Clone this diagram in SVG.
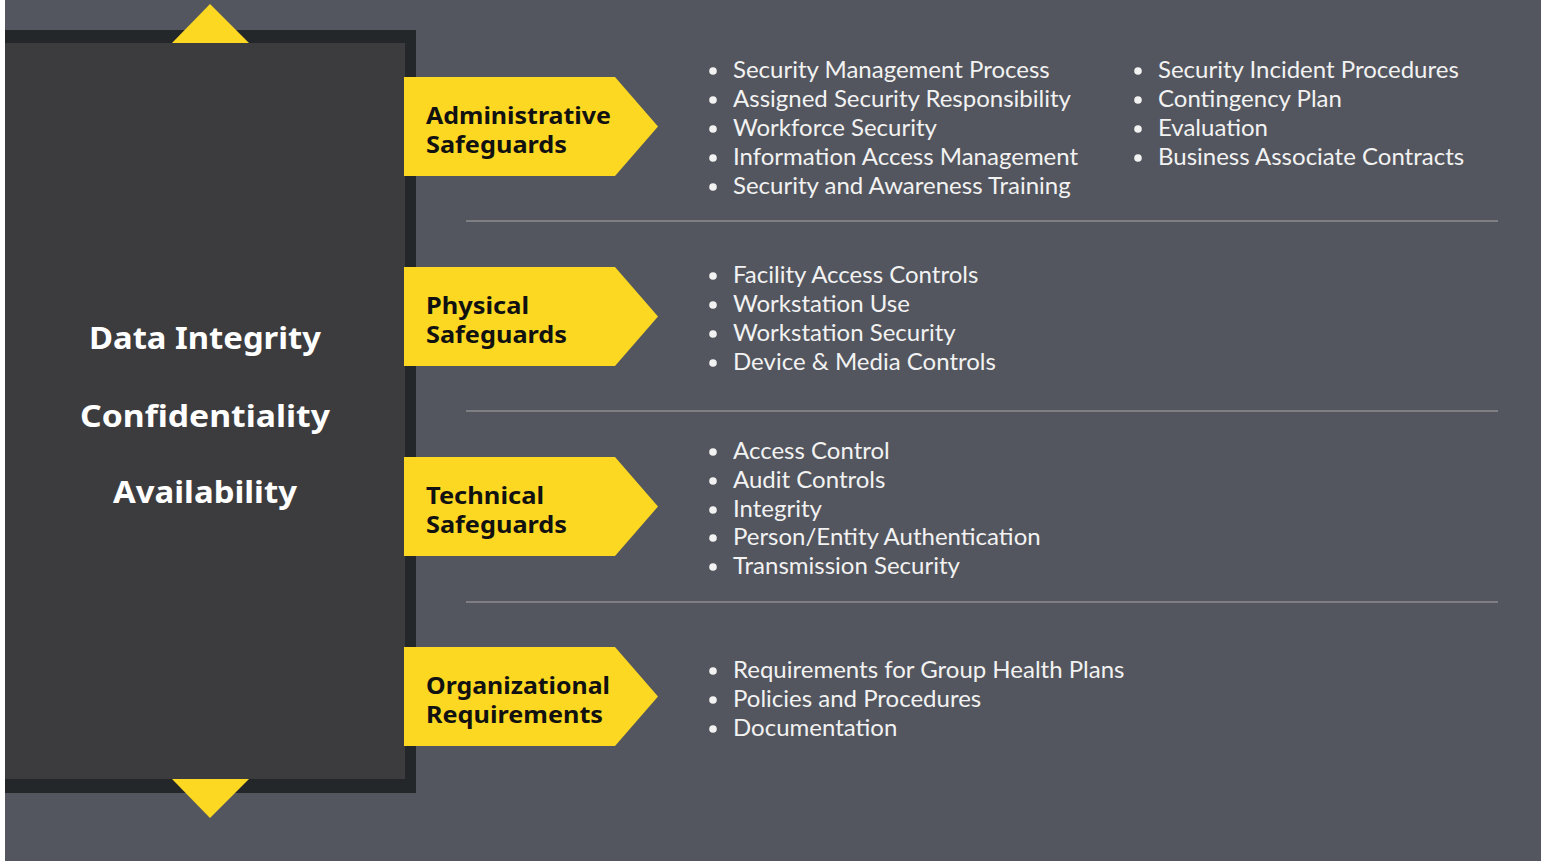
<svg xmlns="http://www.w3.org/2000/svg" width="1543" height="861" viewBox="0 0 1543 861">
<style>
.lbl{font-family:"Noto Sans","Open Sans",sans-serif;font-weight:700;font-size:24px;fill:#111111}
.pil{font-family:"Noto Sans","Open Sans",sans-serif;font-weight:700;font-size:30px;fill:#ffffff;text-anchor:middle}
.itm{font-family:Lato,"Open Sans",sans-serif;font-size:24px;fill:#f2f2f2}
.dot{fill:#f2f2f2}
.sep{stroke:#8c8d91;stroke-width:1.5}
.arr{fill:#fcd822}
</style>
<rect x="0" y="0" width="1543" height="861" fill="#ffffff"/>
<rect x="5" y="0" width="1536" height="861" fill="#53565e"/>
<g id="pillar">
<rect x="5" y="30" width="411" height="763" fill="#24272a"/>
<rect x="5" y="43" width="400" height="736" fill="#3c3c3e"/>
<polygon class="arr" points="172,43 210,4 249,43"/>
<polygon class="arr" points="172,779 249,779 210,818"/>
<text class="pil" x="205" y="349" textLength="232" lengthAdjust="spacingAndGlyphs">Data Integrity</text>
<text class="pil" x="205" y="427" textLength="250" lengthAdjust="spacingAndGlyphs">Confidentiality</text>
<text class="pil" x="205" y="503" textLength="184" lengthAdjust="spacingAndGlyphs">Availability</text>
</g>
<g id="connectors">
<line class="sep" x1="466" y1="221" x2="1498" y2="221"/>
<line class="sep" x1="466" y1="411" x2="1498" y2="411"/>
<line class="sep" x1="466" y1="602" x2="1498" y2="602"/>
</g>
<g id="administrative">
<polygon class="arr" points="404,77 615,77 658,126.5 615,176 404,176"/>
<text class="lbl" x="426" y="124" textLength="185" lengthAdjust="spacingAndGlyphs">Administrative</text>
<text class="lbl" x="426" y="153" textLength="141" lengthAdjust="spacingAndGlyphs">Safeguards</text>
<g class="dot"><circle cx="713" cy="71" r="3.8"/><circle cx="713" cy="100" r="3.8"/><circle cx="713" cy="129" r="3.8"/><circle cx="713" cy="158" r="3.8"/><circle cx="713" cy="187" r="3.8"/>
<circle cx="1138" cy="71" r="3.8"/><circle cx="1138" cy="100" r="3.8"/><circle cx="1138" cy="129" r="3.8"/><circle cx="1138" cy="158" r="3.8"/></g>
<text class="itm" x="733" y="78">Security Management Process</text>
<text class="itm" x="733" y="107">Assigned Security Responsibility</text>
<text class="itm" x="733" y="136">Workforce Security</text>
<text class="itm" x="733" y="165">Information Access Management</text>
<text class="itm" x="733" y="194">Security and Awareness Training</text>
<text class="itm" x="1158" y="78">Security Incident Procedures</text>
<text class="itm" x="1158" y="107">Contingency Plan</text>
<text class="itm" x="1158" y="136">Evaluation</text>
<text class="itm" x="1158" y="165">Business Associate Contracts</text>
</g>
<g id="physical">
<polygon class="arr" points="404,267 615,267 658,316.5 615,366 404,366"/>
<text class="lbl" x="426" y="314" textLength="103" lengthAdjust="spacingAndGlyphs">Physical</text>
<text class="lbl" x="426" y="343" textLength="141" lengthAdjust="spacingAndGlyphs">Safeguards</text>
<g class="dot"><circle cx="713" cy="276" r="3.8"/><circle cx="713" cy="305" r="3.8"/><circle cx="713" cy="334" r="3.8"/><circle cx="713" cy="363" r="3.8"/></g>
<text class="itm" x="733" y="283">Facility Access Controls</text>
<text class="itm" x="733" y="312">Workstation Use</text>
<text class="itm" x="733" y="341">Workstation Security</text>
<text class="itm" x="733" y="370">Device &amp; Media Controls</text>
</g>
<g id="technical">
<polygon class="arr" points="404,457 615,457 658,506.5 615,556 404,556"/>
<text class="lbl" x="426" y="504" textLength="118" lengthAdjust="spacingAndGlyphs">Technical</text>
<text class="lbl" x="426" y="533" textLength="141" lengthAdjust="spacingAndGlyphs">Safeguards</text>
<g class="dot"><circle cx="713" cy="452" r="3.8"/><circle cx="713" cy="481" r="3.8"/><circle cx="713" cy="510" r="3.8"/><circle cx="713" cy="538" r="3.8"/><circle cx="713" cy="567" r="3.8"/></g>
<text class="itm" x="733" y="459">Access Control</text>
<text class="itm" x="733" y="488">Audit Controls</text>
<text class="itm" x="733" y="517">Integrity</text>
<text class="itm" x="733" y="545">Person/Entity Authentication</text>
<text class="itm" x="733" y="574">Transmission Security</text>
</g>
<g id="organizational">
<polygon class="arr" points="404,647 615,647 658,696.5 615,746 404,746"/>
<text class="lbl" x="426" y="694" textLength="184" lengthAdjust="spacingAndGlyphs">Organizational</text>
<text class="lbl" x="426" y="723" textLength="177" lengthAdjust="spacingAndGlyphs">Requirements</text>
<g class="dot"><circle cx="713" cy="671" r="3.8"/><circle cx="713" cy="700" r="3.8"/><circle cx="713" cy="729" r="3.8"/></g>
<text class="itm" x="733" y="678">Requirements for Group Health Plans</text>
<text class="itm" x="733" y="707">Policies and Procedures</text>
<text class="itm" x="733" y="736">Documentation</text>
</g>
</svg>
